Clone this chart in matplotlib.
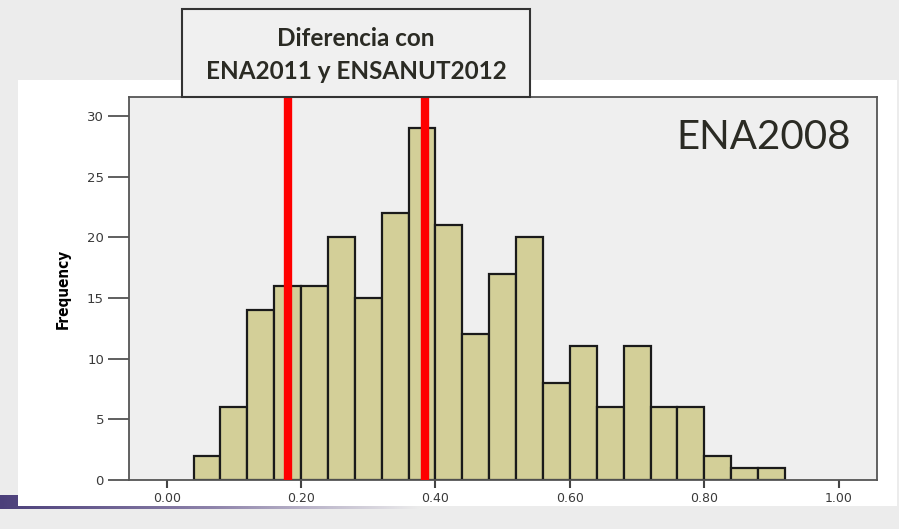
import numpy as np
import matplotlib
matplotlib.use("Agg")
import matplotlib.pyplot as plt
from matplotlib.patches import Rectangle

# histogram data (ENA2008)
counts = [2, 6, 14, 16, 16, 20, 15, 22, 29, 21, 12, 17, 20, 8, 11, 6, 11, 6, 6, 2, 1, 1]
bin_start = 0.04
bin_width = 0.04
diff_lines = [0.18, 0.385]
xticks = [0.0, 0.2, 0.4, 0.6, 0.8, 1.0]
yticks = [0, 5, 10, 15, 20, 25, 30]
box_text = "Diferencia con\nENA2011 y ENSANUT2012"
panel_title = "ENA2008"

W, H = 899, 529
fig = plt.figure(figsize=(W / 100, H / 100), dpi=100)
fig.patch.set_facecolor("#ececec")

def fx(px):
    return px / W

def fy(py):
    return 1 - py / H

# purple strip at the bottom of the slide
strip = fig.add_axes([0, fy(509), fx(420), fy(495) - fy(509)])
grad = np.linspace(0, 1, 256)[None, :]
strip.imshow(grad, aspect="auto", cmap=matplotlib.colors.LinearSegmentedColormap.from_list(
    "p", ["#4b3f7a", "#8d82aa", "#ececec"]))
strip.set_axis_off()

# white panel behind the chart
fig.patches.append(Rectangle((fx(18), fy(506)), fx(897) - fx(18), fy(80) - fy(506),
                             transform=fig.transFigure, facecolor="white",
                             edgecolor="none", zorder=1))

ax = fig.add_axes([fx(129), fy(480), fx(877) - fx(129), fy(97) - fy(480)])
ax.set_zorder(2)
ax.set_facecolor("#efefef")

lefts = bin_start + bin_width * np.arange(len(counts))
ax.bar(lefts, counts, width=bin_width, align="edge", color="#d3cf98",
       edgecolor="#1a1a1a", linewidth=1.6, zorder=2)

for x in diff_lines:
    ax.axvline(x, color="#ff0000", lw=6, zorder=3)

ax.set_xlim(-0.056, 1.057)
ax.set_ylim(0, 31.55)
ax.set_xticks(xticks)
ax.set_xticklabels(["%.2f" % v for v in xticks])
ax.set_yticks(yticks)
ax.tick_params(axis="x", length=6, width=1.5, color="#444444", labelsize=9,
               labelcolor="#3a3a3a", pad=3)
ax.tick_params(axis="y", length=15, width=1.2, color="#444444", labelsize=9.5,
               labelcolor="#3a3a3a", pad=3)
for s in ax.spines.values():
    s.set_color("#555555")
    s.set_linewidth(1.3)

ax.set_ylabel("Frequency", family="DejaVu Sans", fontstretch="condensed",
              fontweight="bold", fontsize=11, labelpad=12)

ax.text(0.965, 0.895, panel_title, transform=ax.transAxes, ha="right", va="center",
        family=["Lato", "DejaVu Sans"], fontsize=29, color="#2b2b24", zorder=5)

# annotation box above the chart
fig.patches.append(Rectangle((fx(182), fy(97)), fx(530) - fx(182), fy(9) - fy(97),
                             transform=fig.transFigure, facecolor="#f0f0f0",
                             edgecolor="#333333", linewidth=1.5, zorder=3))
fig.text(fx(356), fy(55), box_text, ha="center", va="center", linespacing=1.5,
         family=["Lato", "DejaVu Sans"], fontweight="bold", fontsize=17.5,
         color="#2b2b24", zorder=4)

fig.savefig("out.png", dpi=100, facecolor=fig.get_facecolor())
